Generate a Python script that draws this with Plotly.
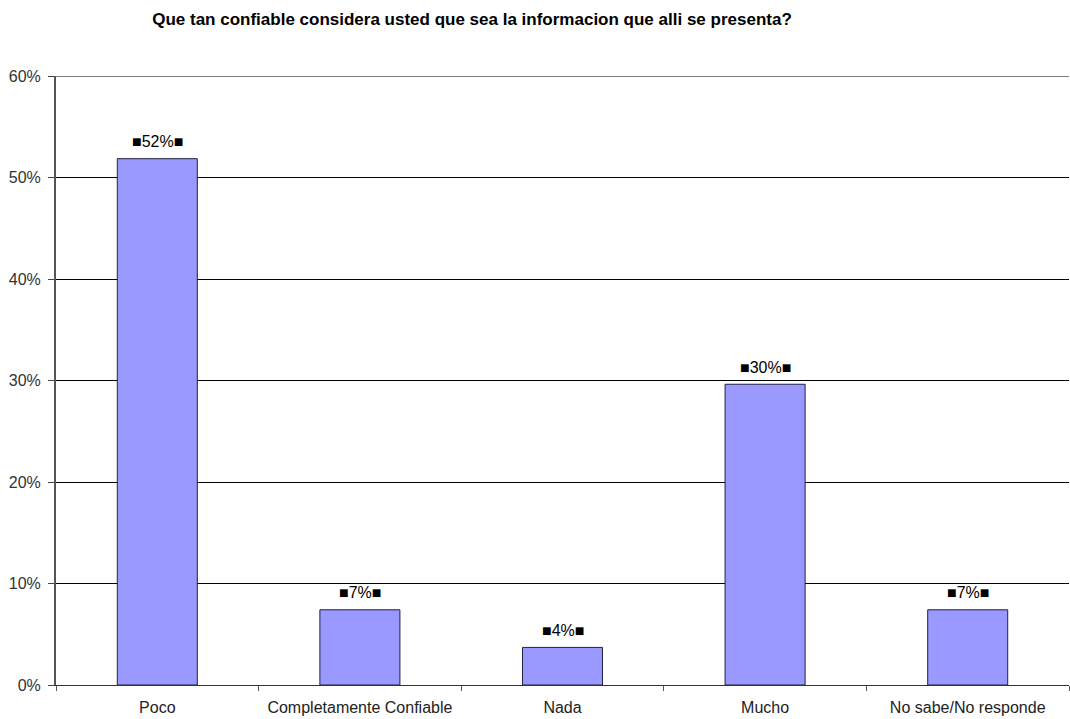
import plotly.graph_objects as go

# Survey responses (27 respondents)
categories = ["Poco", "Completamente Confiable", "Nada", "Mucho", "No sabe/No responde"]
counts = [14, 2, 1, 8, 2]
total = sum(counts)
shares = [c / total for c in counts]

y_ticks = [0, 0.1, 0.2, 0.3, 0.4, 0.5, 0.6]
y_tick_text = ["0%", "10%", "20%", "30%", "40%", "50%", "60%"]

title_text = "Que tan confiable considera usted que sea la informacion que alli se presenta?"
FONT = "Liberation Sans, Arial, sans-serif"

fig = go.Figure(
    go.Bar(
        x=categories,
        y=shares,
        width=0.395,
        marker=dict(color="#9999FF", line=dict(color="#202040", width=1)),
        hoverinfo="x+y",
    )
)

# value labels above each bar
for cat, val in zip(categories, shares):
    fig.add_annotation(
        x=cat, y=val, xref="x", yref="y",
        text=f"■{val:.0%}■",
        showarrow=False,
        yanchor="middle",
        yshift=17,
        font=dict(family=FONT, size=16, color="#000000"),
    )

# gridline at the top of the value range
fig.add_shape(
    type="line", xref="paper", yref="y",
    x0=0, x1=1, y0=0.6, y1=0.6,
    line=dict(color="#000000", width=1),
)

fig.update_layout(
    width=1070,
    height=719,
    margin=dict(l=56, r=1, t=76, b=34),
    paper_bgcolor="white",
    plot_bgcolor="white",
    showlegend=False,
    font=dict(family=FONT, size=16, color="#222222"),
    title=dict(
        text="<b>" + title_text + "</b>",
        xref="container",
        x=472 / 1070,
        xanchor="center",
        y=1 - 19 / 719,
        yanchor="middle",
        font=dict(family=FONT, size=17, color="#000000"),
    ),
)

fig.update_xaxes(
    type="category",
    tickson="boundaries",
    ticks="outside",
    ticklen=5,
    tickcolor="#555555",
    ticklabelstandoff=8,
    showline=True,
    linecolor="#333333",
    linewidth=1,
    showgrid=False,
    tickfont=dict(size=16, color="#222222"),
)

fig.update_yaxes(
    range=[0, 0.6],
    tickvals=y_ticks,
    ticktext=y_tick_text,
    ticks="outside",
    ticklen=6,
    tickcolor="#444444",
    ticklabelstandoff=4,
    showline=True,
    linecolor="#555555",
    linewidth=2,
    showgrid=True,
    gridcolor="#000000",
    gridwidth=1,
    zeroline=False,
    tickfont=dict(size=16, color="#333333"),
)

fig.write_html("out.html")
